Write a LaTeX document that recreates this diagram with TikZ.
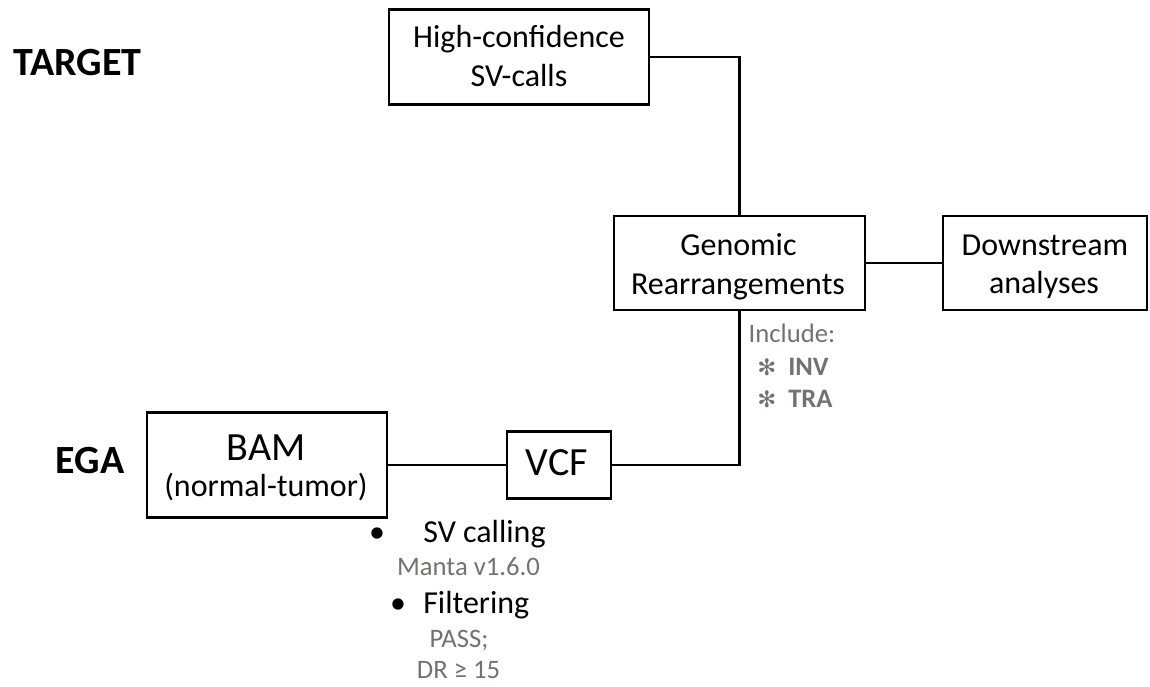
\documentclass[tikz,border=0pt]{standalone}
\usepackage{fontspec}
\setmainfont{Carlito}
\newfontfamily\symfont{DejaVu Sans}
\definecolor{notegray}{HTML}{767171}

\begin{document}
\begin{tikzpicture}[x=0.75pt,y=-0.75pt,
  box/.style={draw=black, line width=1.6pt, inner sep=0pt, fill=white},
  link/.style={draw=black, line width=1.6pt},
  lbl/.style={anchor=base, inner sep=0pt, font=\fontsize{24}{29}\selectfont},
  big/.style={anchor=base, inner sep=0pt, font=\fontsize{30}{36}\selectfont},
  tag/.style={anchor=base, inner sep=0pt, font=\fontsize{30}{36}\selectfont\bfseries},
  note/.style={anchor=base, inner sep=0pt, text=notegray, font=\fontsize{20}{24}\selectfont},
  star/.style={anchor=base west, inner sep=0pt, text=notegray, font=\fontsize{20}{24}\selectfont},
]
\useasboundingbox (0,0) rectangle (1150,686);

% side tags
\node[tag] (target) at (77.5,75) {TARGET};
\node[tag] (ega) at (90,473) {EGA};

% boxes
\node[box, minimum width=195pt, minimum height=71.25pt] (hc) at (519,57) {};
\node[box, minimum width=188.25pt, minimum height=70.5pt] (gr) at (739.5,263) {};
\node[box, minimum width=153pt, minimum height=70.5pt] (ds) at (1045,263) {};
\node[box, minimum width=180pt, minimum height=78.75pt] (bam) at (267,465) {};
\node[box, minimum width=78pt, minimum height=50.25pt] (vcf) at (559,465) {};

% box labels
\node[lbl] (hc1) at (519,47) {High-confidence};
\node[lbl] (hc2) at (519,86) {SV-calls};
\node[lbl] (gr1) at (738.5,255) {Genomic};
\node[lbl] (gr2) at (738,294) {Rearrangements};
\node[lbl] (ds1) at (1045,255) {Downstream};
\node[lbl] (ds2) at (1044,293) {analyses};
\node[big] (bam1) at (266,460) {BAM};
\node[lbl] (bam2) at (266,496) {(normal-tumor)};
\node[big] (vcf1) at (557,475) {VCF};

% connectors
\draw[link] (hc) -| (gr);
\draw[link] (gr) -- (ds);
\draw[link] (gr) |- (vcf);
\draw[link] (bam) -- (vcf);

% notes on the rearrangement filter
\node[note] (inc) at (792,342) {Include:};
\node[star] (inv) at (757,375) {{\symfont\fontsize{17}{20}\selectfont ✻}\hspace{9pt}\textbf{INV}};
\node[star] (tra) at (757,407) {{\symfont\fontsize{17}{20}\selectfont ✻}\hspace{9pt}\textbf{TRA}};

% processing steps
\node[lbl] (b1) at (377,542) {•};
\node[lbl, anchor=base west] (svc) at (423,542) {SV calling};
\node[note] (manta) at (468.5,575) {Manta v1.6.0};
\node[lbl] (b2) at (398,613) {•};
\node[lbl, anchor=base west] (filt) at (423,613) {Filtering};
\node[note] (pass) at (459,647) {PASS;};
\node[note] (dr) at (458.5,678) {DR ≥ 15};
\end{tikzpicture}
\end{document}
